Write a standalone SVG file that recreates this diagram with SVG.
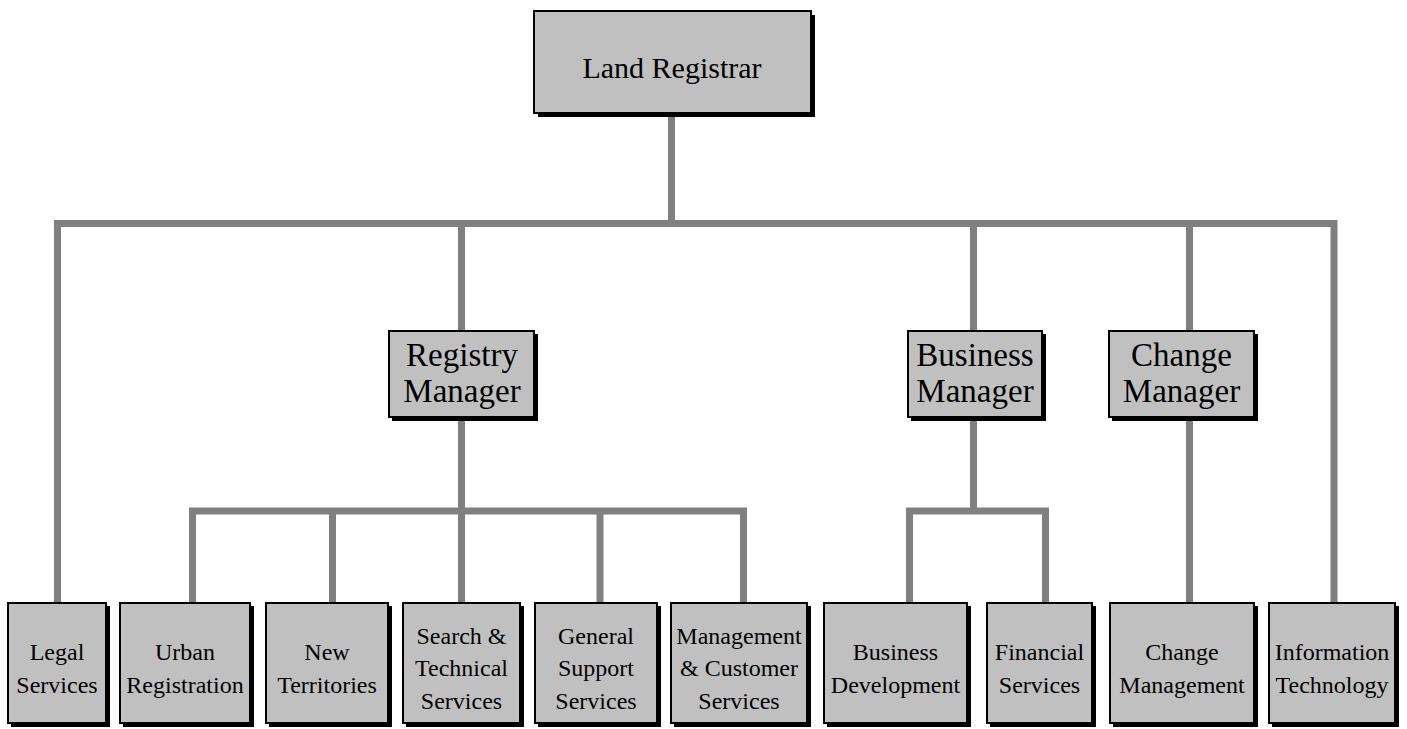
<svg xmlns="http://www.w3.org/2000/svg" width="1407" height="729" viewBox="0 0 1407 729">
<style>
.sh{fill:#000}
.bx{fill:#c0c0c0;stroke:#000;stroke-width:2}
.t{font-family:"Liberation Serif","Times New Roman",serif;fill:#000;text-anchor:middle}
.big{font-size:30px}
.mid{font-size:33px}
.sm{font-size:24px}
.ln{fill:none;stroke:#808080;stroke-width:7;stroke-linejoin:miter;stroke-linecap:butt}
</style>
<rect width="1407" height="729" fill="#fff"/>
<g id="connectors">
<path class="ln" d="M671.5,113 V223.5"/>
<path class="ln" d="M57.5,602 V223.5 H1334 V602"/>
<path class="ln" d="M461.5,223.5 V330"/>
<path class="ln" d="M973.5,223.5 V330"/>
<path class="ln" d="M1189.5,223.5 V330"/>
<path class="ln" d="M461.5,420 V602"/>
<path class="ln" d="M192.5,602 V511 H743.5 V602"/>
<path class="ln" d="M332.5,511 V602"/>
<path class="ln" d="M600,511 V602"/>
<path class="ln" d="M973.5,420 V511"/>
<path class="ln" d="M909.5,602 V511 H1045.5 V602"/>
<path class="ln" d="M1189.5,420 V602"/>
</g>
<g id="land-registrar">
<rect class="sh" x="538" y="15" width="277" height="102"/>
<rect class="bx" x="534" y="11" width="277" height="102"/>
<text class="t big" x="672" y="78">Land Registrar</text>
</g>
<g id="registry-manager">
<rect class="sh" x="392" y="334" width="146" height="87"/>
<rect class="bx" x="389" y="331" width="145" height="86"/>
<text class="t mid" x="462" y="366">Registry</text>
<text class="t mid" x="462" y="402">Manager</text>
</g>
<g id="business-manager">
<rect class="sh" x="911" y="334" width="135" height="87"/>
<rect class="bx" x="908" y="331" width="134" height="86"/>
<text class="t mid" x="975" y="366">Business</text>
<text class="t mid" x="975" y="402">Manager</text>
</g>
<g id="change-manager">
<rect class="sh" x="1112" y="334" width="146" height="87"/>
<rect class="bx" x="1109" y="331" width="145" height="86"/>
<text class="t mid" x="1181.5" y="366">Change</text>
<text class="t mid" x="1181.5" y="402">Manager</text>
</g>
<g id="legal-services">
<rect class="sh" x="11" y="606" width="99" height="121"/>
<rect class="bx" x="8" y="603" width="98" height="120"/>
<text class="t sm" x="57" y="660">Legal</text>
<text class="t sm" x="57" y="693">Services</text>
</g>
<g id="urban-registration">
<rect class="sh" x="123" y="606" width="131" height="121"/>
<rect class="bx" x="120" y="603" width="130" height="120"/>
<text class="t sm" x="185" y="660">Urban</text>
<text class="t sm" x="185" y="693">Registration</text>
</g>
<g id="new-territories">
<rect class="sh" x="269" y="606" width="123" height="121"/>
<rect class="bx" x="266" y="603" width="122" height="120"/>
<text class="t sm" x="327" y="660">New</text>
<text class="t sm" x="327" y="693">Territories</text>
</g>
<g id="search-technical">
<rect class="sh" x="406" y="606" width="118" height="121"/>
<rect class="bx" x="403" y="603" width="117" height="120"/>
<text class="t sm" x="461.5" y="644">Search &amp;</text>
<text class="t sm" x="461.5" y="676">Technical</text>
<text class="t sm" x="461.5" y="709">Services</text>
</g>
<g id="general-support">
<rect class="sh" x="538" y="606" width="123" height="121"/>
<rect class="bx" x="535" y="603" width="122" height="120"/>
<text class="t sm" x="596" y="644">General</text>
<text class="t sm" x="596" y="676">Support</text>
<text class="t sm" x="596" y="709">Services</text>
</g>
<g id="management-customer">
<rect class="sh" x="674" y="606" width="137" height="121"/>
<rect class="bx" x="671" y="603" width="136" height="120"/>
<text class="t sm" x="739" y="644">Management</text>
<text class="t sm" x="739" y="676">&amp; Customer</text>
<text class="t sm" x="739" y="709">Services</text>
</g>
<g id="business-development">
<rect class="sh" x="827" y="606" width="144" height="121"/>
<rect class="bx" x="824" y="603" width="143" height="120"/>
<text class="t sm" x="895.5" y="660">Business</text>
<text class="t sm" x="895.5" y="693">Development</text>
</g>
<g id="financial-services">
<rect class="sh" x="990" y="606" width="106" height="121"/>
<rect class="bx" x="987" y="603" width="105" height="120"/>
<text class="t sm" x="1039.5" y="660">Financial</text>
<text class="t sm" x="1039.5" y="693">Services</text>
</g>
<g id="change-management">
<rect class="sh" x="1113" y="606" width="145" height="121"/>
<rect class="bx" x="1110" y="603" width="144" height="120"/>
<text class="t sm" x="1182" y="660">Change</text>
<text class="t sm" x="1182" y="693">Management</text>
</g>
<g id="information-technology">
<rect class="sh" x="1272" y="606" width="127" height="121"/>
<rect class="bx" x="1269" y="603" width="126" height="120"/>
<text class="t sm" x="1332" y="660">Information</text>
<text class="t sm" x="1332" y="693">Technology</text>
</g>
</svg>
